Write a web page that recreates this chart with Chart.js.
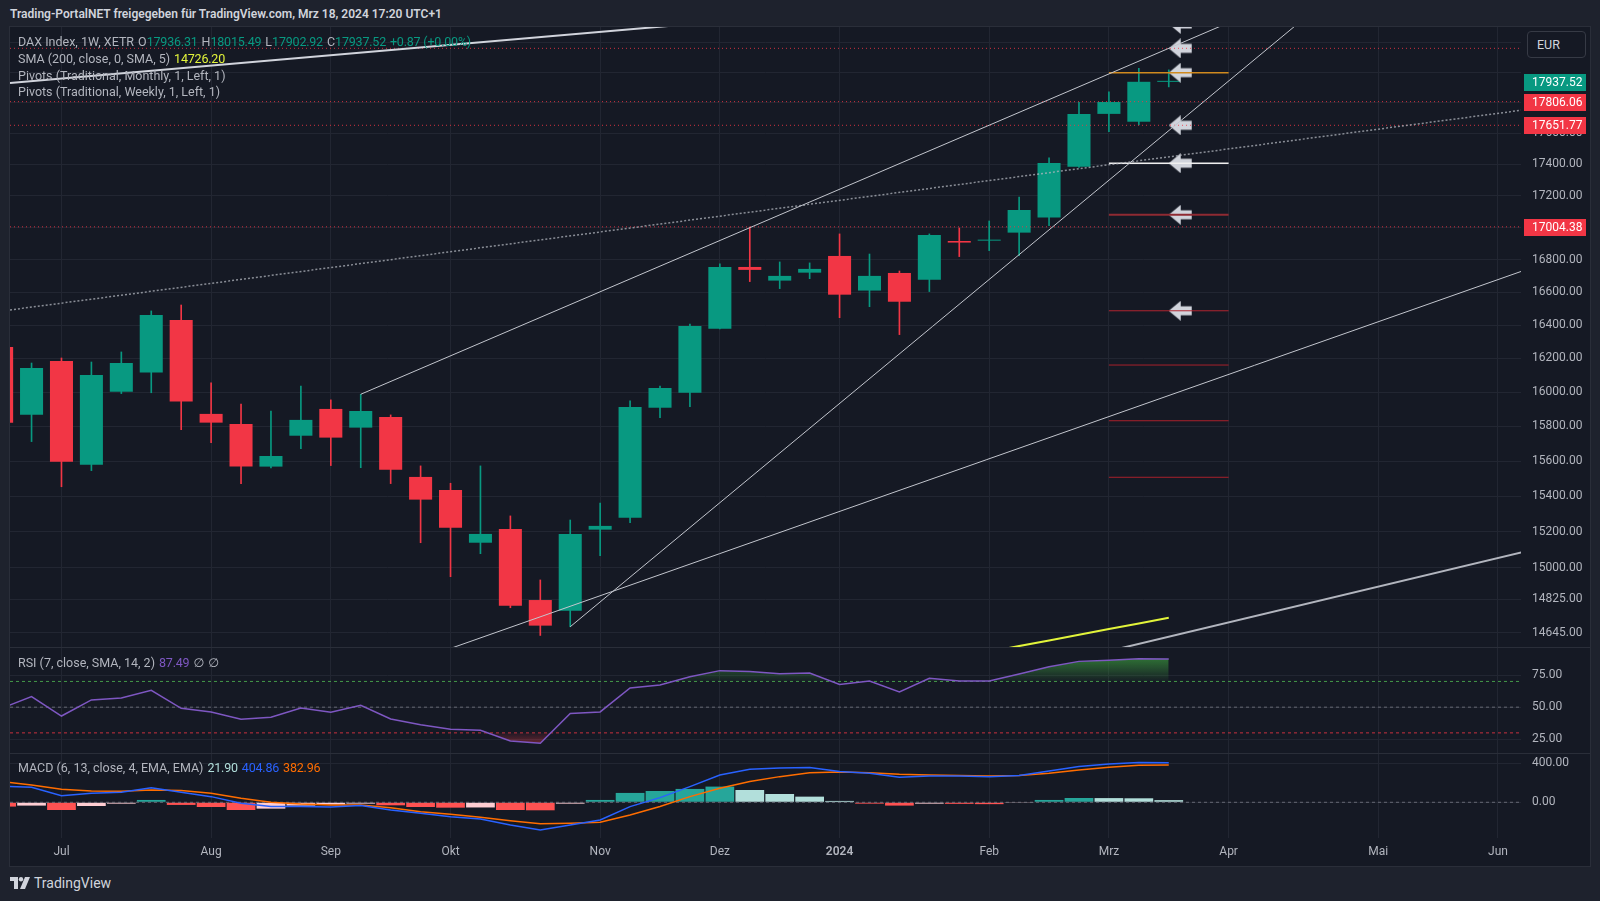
<!DOCTYPE html>
<html lang="de">
<head>
<meta charset="utf-8">
<title>DAX Index 1W</title>
<script src="https://cdn.jsdelivr.net/npm/chart.js@4.4.1/dist/chart.umd.min.js"></script>
<style>
  html, body { margin: 0; padding: 0; }
  body { width: 1600px; height: 901px; background: #1e222d; position: relative; overflow: hidden;
         font-family: Roboto, "DejaVu Sans", sans-serif; color: #b2b5be; }
  #frame { position: absolute; left: 9px; top: 26px; width: 1580px; height: 839px; background: #151924;
           border: 1px solid #2a2e39; }
  .pane { position: absolute; left: 10px; width: 1580px; }
  .sep { position: absolute; left: 10px; width: 1580px; height: 1px; background: #2a2e39; }
  .txt { position: absolute; white-space: pre; font-size: 12.5px; line-height: 16px; color: #b2b5be; }
  .up { color: #089981; }
  .gap { margin-left: 4px; }
  .num { letter-spacing: -0.2px; }
  #hdr { left: 10px; top: 6px; font-size: 12px; font-weight: 600; color: #d1d4dc; }
  #eur { position: absolute; left: 1527px; top: 31px; width: 57px; height: 25px; border: 1px solid #363a45;
         border-radius: 4px; background: #151924; color: #d1d4dc; font-size: 12.5px; line-height: 25px;
         text-indent: 9px; }
  #logo { position: absolute; left: 10px; top: 875px; font-size: 14px; font-weight: 400; color: #d1d4dc; line-height: 16px; }
  #logo svg { vertical-align: -1px; margin-right: 4px; }
</style>
</head>
<body>
<div id="frame"></div>
<div class="pane" style="top:27px;height:620px"><canvas id="main" width="1580" height="620"></canvas></div>
<div class="sep" style="top:647px"></div>
<div class="pane" style="top:648px;height:105px"><canvas id="rsi" width="1580" height="105"></canvas></div>
<div class="sep" style="top:753px"></div>
<div class="pane" style="top:754px;height:112px"><canvas id="macd" width="1580" height="112"></canvas></div>

<div id="hdr" class="txt">Trading-PortalNET freigegeben für TradingView.com, Mrz 18, 2024 17:20 UTC+1</div>
<div id="lg1" class="txt" style="left:18px;top:34px"></div>
<div id="lg2" class="txt" style="left:18px;top:51px"></div>
<div id="lg3" class="txt" style="left:18px;top:68px">Pivots (Traditional, Monthly, 1, Left, 1)</div>
<div id="lg4" class="txt" style="left:18px;top:84px">Pivots (Traditional, Weekly, 1, Left, 1)</div>
<div id="lgRsi" class="txt" style="left:18px;top:655px"></div>
<div id="lgMacd" class="txt" style="left:18px;top:760px"></div>
<div id="eur">EUR</div>
<div id="logo"><svg width="20" height="12" viewBox="0 0 20 12"><path d="M0 0h8v12H4V4H0z" fill="#d1d4dc"/><circle cx="11" cy="2.2" r="2.2" fill="#d1d4dc"/><path d="M15 0h5l-5 12H10z" fill="#d1d4dc"/></svg>TradingView</div>

<script>
// Wochenkerzen DAX (Wochenbeginn), KW 25/2023 bis KW 12/2024
const weeks = ['19.06.23', '26.06.23', '03.07.23', '10.07.23', '17.07.23', '24.07.23', '31.07.23', '07.08.23',
    '14.08.23', '21.08.23', '28.08.23', '04.09.23', '11.09.23', '18.09.23', '25.09.23', '02.10.23', '09.10.23',
    '16.10.23', '23.10.23', '30.10.23', '06.11.23', '13.11.23', '20.11.23', '27.11.23', '04.12.23', '11.12.23',
    '18.12.23', '25.12.23', '01.01.24', '08.01.24', '15.01.24', '22.01.24', '29.01.24', '05.02.24', '12.02.24',
    '19.02.24', '26.02.24', '04.03.24', '11.03.24', '18.03.24'];

const opens = [16269, 15868, 16185, 15579, 16003, 16116, 16431, 15873, 15814, 15568, 15746, 15902, 15793, 15855,
    15509, 15435, 15138, 15215, 14822, 14764, 15211, 15278, 15909, 15997, 16379, 16755, 16671, 16720, 16823, 16610,
    16718, 16677, 16916, 16918, 16968, 17062, 17385, 17726, 17675, 17936.31];
const highs = [16300, 16173, 16203, 16179, 16239, 16486, 16522, 16055, 15931, 15890, 16037, 15955, 15988, 15867,
    15572, 15473, 15572, 15288, 14932, 15265, 15361, 15949, 16037, 16407, 16774, 17003, 16786, 16780, 16960, 16835,
    16730, 16960, 16997, 17041, 17192, 17441, 17802, 17870, 18026, 18015.49];
const lows = [15790, 15712, 15453, 15545, 15992, 15997, 15781, 15706, 15471, 15560, 15671, 15574, 15562, 15471,
    15138, 14950, 15077, 14780, 14630, 14677, 15066, 15250, 15851, 15915, 16377, 16665, 16622, 16683, 16445, 16512,
    16343, 16604, 16819, 16856, 16825, 17012, 17380, 17611, 17654, 17902.92];
const closes = [15822, 16143, 15596, 16102, 16173, 16461, 15945, 15822, 15568, 15629, 15838, 15735, 15890, 15550,
    15380, 15222, 15187, 14791, 14683, 15187, 15232, 15914, 16025, 16395, 16755, 16737, 16700, 16743, 16585, 16700,
    16542, 16953, 16906, 16924, 17110, 17409, 17726, 17804, 17936.65, 17937.52];

// SMA 200 (nur der sichtbare Rest unten rechts)
const smaWeeks = [33, 34, 35, 36, 37, 38, 39];
const smaValues = [14543, 14573, 14603, 14634, 14665, 14695, 14726.20];

// RSI (7)
const rsiValues = [49.1, 58.2, 43.1, 55.6, 57.1, 63.1, 49.1, 46.3, 40.6, 42.1, 49.4, 46.0, 51.4, 40.8, 36.4, 32.8,
    32.0, 23.7, 21.9, 45.0, 46.3, 64.9, 67.2, 73.7, 78.4, 77.8, 76.0, 76.6, 67.7, 70.3, 61.8, 72.4, 70.3, 70.3,
    75.8, 81.5, 85.6, 86.4, 87.7, 87.49];
const rsiBands = [70, 50, 30];

// MACD (6, 13, 4)
const macdValues = [164, 154, 68, 92, 103, 150, 103, 58, -10, -44, -44, -48, -34, -79, -113, -147, -171, -232, -284,
    -232, -181, -44, 48, 161, 280, 338, 352, 356, 315, 297, 256, 270, 270, 263, 274, 321, 366, 393, 407, 404.86];
const signalValues = [212, 178, 133, 116, 113, 127, 120, 92, 41, 0, -17, -27, -27, -55, -96, -123, -154, -188, -219,
    -215, -205, -130, -44, 58, 144, 212, 263, 304, 311, 304, 287, 280, 274, 270, 274, 297, 332, 359, 380, 382.96];
const histValues = [-44, -34, -79, -38, -14, 24, -27, -48, -79, -65, -34, -24, -14, -31, -48, -55, -53, -79, -82,
    -14, 24, 96, 116, 137, 161, 126, 85, 58, 14, -14, -34, -14, -16, -19, -3, 24, 44, 43, 41, 21.90];

// Zeitachse: Kerzenindex der ersten Woche im Monat
const monthTickIdx = [2, 7, 11, 15, 20, 24, 28, 33, 37, 41, 46, 50];
const monthTickLabels = ['Jul', 'Aug', 'Sep', 'Okt', 'Nov', 'Dez', '2024', 'Feb', 'Mrz', 'Apr', 'Mai', 'Jun'];

// Achsenbeschriftungen
const priceTicks = [14645, 14825, 15000, 15200, 15400, 15600, 15800, 16000, 16200, 16400, 16600, 16800, 17000,
    17200, 17400, 17600, 17800, 18000, 18200];
const rsiTicks = [25, 50, 75];
const macdTicks = [0, 400];

// Zeichnungen: Trendlinien [Index, Kurs] -> [Index, Kurs]
const trendLines = [
    [[0.28, 17929], [30, 18444]],
    [[0.28, 16492], [50.83, 17751]],
    [[12, 15988], [45, 18680]],
    [[19, 14677], [45, 18609]],
    [[14, 14504], [50.83, 16731]],
    [[35, 14470], [50.83, 15086]]
];
const hLevels = [18159, 17806.06, 17651.77, 17004.38];       // rot gepunktete Linien
const tagLevels = [17806.06, 17651.77, 17004.38];            // davon mit Preisschild
const pivotLevels = [17997, 17407, 17080, 16487, 16161, 15833, 15507]; // Pivots März
const arrowLevels = [18323, 18159, 17997, 17651.77, 17407, 17080, 16487];

Chart.defaults.font.family = 'Roboto, "DejaVu Sans", sans-serif';
Chart.defaults.color = '#b2b5be';

const UP = '#089981', DOWN = '#f23645';
const GRID = '#222632';
const X_MIN = 0.28, X_MAX = 50.77;
const idx = weeks.map((w, i) => i);
const pts = (xs, ys) => xs.map((x, k) => ({ x: x, y: ys[k] }));
const candleColors = idx.map(i => closes[i] >= opens[i] ? UP : DOWN);
const last = closes.length - 1;

function xAxis(withLabels) {
    return {
        type: 'linear', min: X_MIN, max: X_MAX, bounds: 'data', offset: false,
        afterBuildTicks: s => { s.ticks = monthTickIdx.map(v => ({ value: v })); },
        ticks: {
            display: withLabels, autoSkip: false, maxRotation: 0, padding: 7, color: '#b2b5be',
            font: c => ({ size: 12, weight: monthTickLabels[c.index] === '2024' ? '600' : 'normal' }),
            callback: (v, i) => monthTickLabels[i]
        },
        grid: { color: GRID, drawTicks: false, offset: false },
        border: { display: false },
        afterFit: s => {
            s.height = withLabels ? 28 : 0;
            s.paddingLeft = 0; s.paddingRight = 0;
        }
    };
}

function yAxis(type, min, max, tickList, fmt) {
    return {
        type: type, position: 'right', min: min, max: max, bounds: 'data',
        afterBuildTicks: s => { s.ticks = tickList.map(v => ({ value: v })); },
        ticks: { color: '#b2b5be', font: { size: 12 }, padding: 11, autoSkip: false, callback: fmt },
        grid: { color: GRID, drawTicks: false },
        border: { display: false },
        afterFit: s => {
            s.width = 69;
            s.paddingTop = 0; s.paddingBottom = 0;
        }
    };
}

function options(scales) {
    return {
        responsive: false, animation: false, events: [],
        layout: { padding: 0, autoPadding: false },
        plugins: { legend: { display: false }, tooltip: { enabled: false } },
        scales: scales
    };
}

function line(data, color, width, dash, extra) {
    return Object.assign({
        type: 'line', data: data, borderColor: color, borderWidth: width, borderDash: dash || [],
        pointRadius: 0, tension: 0, fill: false, order: 0
    }, extra || {});
}

// Pfeil-Symbol fuer die Pivot-Marken
function makeArrow() {
    const c = document.createElement('canvas');
    c.width = 24; c.height = 20;
    const g = c.getContext('2d');
    g.fillStyle = '#d1d4dc';
    g.beginPath();
    g.moveTo(0, 10); g.lineTo(12, 0); g.lineTo(12, 5.5); g.lineTo(23, 5.5);
    g.lineTo(23, 14.5); g.lineTo(12, 14.5); g.lineTo(12, 20);
    g.closePath(); g.fill();
    return c;
}

// Preisschilder an der rechten Achse
const priceTagPlugin = {
    id: 'priceTags',
    afterDraw(chart) {
        const { ctx, chartArea, scales } = chart;
        const tags = [{ v: closes[last], c: candleColors[last] }].concat(tagLevels.map(v => ({ v: v, c: DOWN })));
        ctx.save();
        ctx.font = '12px Roboto, "DejaVu Sans", sans-serif';
        ctx.textBaseline = 'middle';
        tags.forEach(t => {
            const y = Math.round(scales.y.getPixelForValue(t.v));
            const x = chartArea.right + 3;
            ctx.fillStyle = t.c;
            ctx.fillRect(x, y - 8, 62, 17);
            ctx.fillStyle = '#ffffff';
            ctx.fillText(t.v.toFixed(2), x + 8, y + 1);
        });
        ctx.restore();
    }
};

// Hauptchart: Kerzen, SMA, Zeichnungen
const trendStyle = [
    { c: '#d1d4dc', w: 2, d: [] },
    { c: 'rgba(178,181,190,0.75)', w: 1.5, d: [2, 2] },
    { c: '#c3c6ce', w: 1, d: [] },
    { c: '#c3c6ce', w: 1, d: [] },
    { c: '#c3c6ce', w: 1, d: [] },
    { c: '#b2b5be', w: 2, d: [] }
];
const pivotStyle = [
    { c: '#d08a1f', w: 1.5 }, { c: '#f0f0f0', w: 1.5 }, { c: '#8f2a32', w: 2 },
    { c: '#b02531', w: 1 }, { c: '#a8212c', w: 1 }, { c: '#a8212c', w: 1 }, { c: '#a8212c', w: 1 }
];

const mainSets = [
    {
        type: 'bar', label: 'Docht', data: idx.map(i => ({ x: i, y: [lows[i], highs[i]] })),
        backgroundColor: candleColors, barThickness: 1, grouped: false, order: 3
    },
    {
        type: 'bar', label: 'Kerze', data: idx.map(i => ({ x: i, y: [opens[i], closes[i]] })),
        backgroundColor: candleColors, barPercentage: 0.77, categoryPercentage: 1, minBarLength: 1,
        grouped: false, order: 2
    },
    line(pts(smaWeeks, smaValues), '#e2f43a', 2)
];
trendLines.forEach((t, k) => {
    mainSets.push(line(t.map(p => ({ x: p[0], y: p[1] })), trendStyle[k].c, trendStyle[k].w, trendStyle[k].d));
});
hLevels.forEach(v => {
    mainSets.push(line([{ x: X_MIN, y: v }, { x: X_MAX, y: v }], 'rgba(242,54,69,0.85)', 1, [1, 3]));
});
pivotLevels.forEach((v, k) => {
    mainSets.push(line([{ x: 37, y: v }, { x: 41, y: v }], pivotStyle[k].c, pivotStyle[k].w));
});
mainSets.push({
    type: 'scatter', data: arrowLevels.map(v => ({ x: 39.4, y: v })), pointStyle: makeArrow(),
    pointRadius: 10, clip: 0, order: 0
});

new Chart(document.getElementById('main'), {
    type: 'line',
    data: { datasets: mainSets },
    options: options({
        x: xAxis(false),
        y: yAxis('logarithmic', 14568, 18302, priceTicks,
            v => Math.abs(Math.log(v / closes[last])) < 0.006 ? '' : v.toFixed(2))
    }),
    plugins: [priceTagPlugin]
});

// RSI
const rsiPts = pts(idx, rsiValues);
const bandStyle = ['rgba(76,175,80,0.85)', 'rgba(120,123,134,0.8)', 'rgba(242,54,69,0.8)'];
const rsiSets = [
    line(rsiPts, '#7e57c2', 1.5, [], { fill: { target: { value: 70 }, above: 'rgba(67,160,71,0.32)', below: 'transparent' } }),
    line(rsiPts, 'transparent', 0, [], { fill: { target: { value: 30 }, above: 'transparent', below: 'rgba(242,54,69,0.22)' } })
];
rsiBands.forEach((v, k) => {
    rsiSets.push(line([{ x: X_MIN, y: v }, { x: X_MAX, y: v }], bandStyle[k], 1, [3, 3], { order: 1 }));
});

const rsiChart = new Chart(document.getElementById('rsi'), {
    type: 'line',
    data: { datasets: rsiSets },
    options: options({ x: xAxis(false), y: yAxis('linear', 14.35, 96, rsiTicks, v => v.toFixed(2)) })
});

// Verlauf der Ueberkauft-Flaeche (oben kraeftig, zur 70er-Linie hin auslaufend)
(function () {
    const ys = rsiChart.scales.y;
    const g = rsiChart.ctx.createLinearGradient(0, ys.getPixelForValue(88), 0, ys.getPixelForValue(70));
    g.addColorStop(0, 'rgba(56,142,60,0.75)');
    g.addColorStop(1, 'rgba(56,142,60,0.05)');
    const gr = rsiChart.ctx.createLinearGradient(0, ys.getPixelForValue(30), 0, ys.getPixelForValue(20));
    gr.addColorStop(0, 'rgba(242,54,69,0.05)');
    gr.addColorStop(1, 'rgba(242,54,69,0.45)');
    rsiChart.data.datasets[0].fill.above = g;
    rsiChart.data.datasets[1].fill.below = gr;
    rsiChart.update('none');
})();

// MACD
const histColors = histValues.map((h, i) => {
    const prev = i ? histValues[i - 1] : h + 1;
    if (h >= 0) return prev < h ? '#26a69a' : '#b2dfdb';
    return prev < h ? '#ffcdd2' : '#ff5252';
});

new Chart(document.getElementById('macd'), {
    type: 'line',
    data: {
        datasets: [
            {
                type: 'bar', data: pts(idx, histValues), backgroundColor: histColors,
                barPercentage: 0.96, categoryPercentage: 1, grouped: false, order: 3
            },
            line([{ x: X_MIN, y: 0 }, { x: X_MAX, y: 0 }], 'rgba(120,123,134,0.8)', 1, [3, 3], { order: 2 }),
            line(pts(idx, macdValues), '#2962ff', 1.5),
            line(pts(idx, signalValues), '#ff6d00', 1.5)
        ]
    },
    options: options({ x: xAxis(true), y: yAxis('linear', -366, 495, macdTicks, v => v.toFixed(2)) })
});

// Legenden
const f2 = v => v.toFixed(2);
const chg = closes[last] - closes[last - 1];
const sign = chg >= 0 ? '+' : '';
const val = (txt, color) => '<span class="num" style="color:' + color + '">' + txt + '</span>';
document.getElementById('lg1').innerHTML =
    'DAX Index, 1W, XETR<span class="gap">O</span>' + val(f2(opens[last]), UP) +
    '<span class="gap">H</span>' + val(f2(highs[last]), UP) +
    '<span class="gap">L</span>' + val(f2(lows[last]), UP) +
    '<span class="gap">C</span>' + val(f2(closes[last]), UP) +
    '<span class="gap"></span>' + val(sign + f2(chg) + ' (' + sign + f2(chg / closes[last - 1] * 100) + '%)', UP);
document.getElementById('lg2').innerHTML =
    'SMA (200, close, 0, SMA, 5)<span class="gap"></span>' + val(f2(smaValues[smaValues.length - 1]), '#e2f43a');
document.getElementById('lgRsi').innerHTML =
    'RSI (7, close, SMA, 14, 2)<span class="gap"></span>' + val(f2(rsiValues[last]), '#7e57c2') +
    '<span class="gap">\u2205</span><span class="gap">\u2205</span>';
document.getElementById('lgMacd').innerHTML =
    'MACD (6, 13, close, 4, EMA, EMA)<span class="gap"></span>' + val(f2(histValues[last]), '#b2dfdb') +
    '<span class="gap"></span>' + val(f2(macdValues[last]), '#2962ff') +
    '<span class="gap"></span>' + val(f2(signalValues[last]), '#ff6d00');
</script>
</body>
</html>
